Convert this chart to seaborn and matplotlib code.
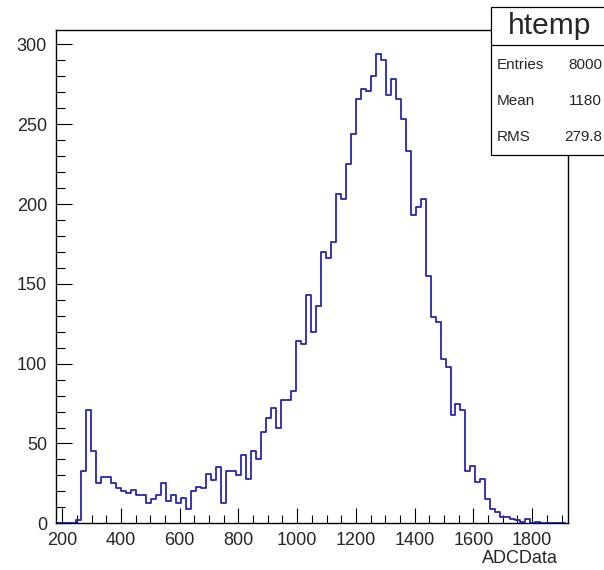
import numpy as np
import pandas as pd
import matplotlib
matplotlib.use("Agg")
import matplotlib.pyplot as plt
import seaborn as sns
from matplotlib.ticker import MultipleLocator, FixedLocator
from matplotlib.patches import Rectangle
from matplotlib.lines import Line2D

# ---- data ----
bin_start = 179
bin_width = 17
counts = [0, 0, 0, 0,
          2, 33, 71, 45, 25, 29, 29, 25, 22, 20,
          19, 21, 18, 18, 13, 15, 18, 25, 14, 18,
          13, 16, 9, 20, 23, 22, 31, 27, 35, 13,
          33, 33, 30, 43, 28, 45, 40, 57, 66, 72,
          60, 77, 77, 83, 114, 112, 143, 120, 136, 170,
          166, 176, 206, 203, 225, 244, 266, 272, 271, 280,
          294, 290, 268, 278, 266, 253, 233, 193, 198, 203,
          155, 129, 126, 103, 98, 68, 75, 71, 33, 36,
          26, 28, 15, 9, 7, 4, 4, 3, 2, 1, 3, 0, 1,
          0, 0, 0, 0, 0]
x_ticks = [200, 400, 600, 800, 1000, 1200, 1400, 1600, 1800]
y_ticks = [0, 50, 100, 150, 200, 250, 300]
x_range = [179, 1922]
y_range = [0, 309]
stat_names = ["Entries", "Mean", "RMS"]
stat_values = ["8000", "1180", "279.8"]
hist_title = "htemp"
x_label = "ADCData"

sns.set_style("ticks")
plt.rcParams["font.family"] = ["Liberation Sans", "DejaVu Sans"]

edges = [float(bin_start + bin_width * k) for k in range(len(counts) + 1)]
centers = [(edges[k] + edges[k + 1]) / 2 for k in range(len(counts))]
df = pd.DataFrame({"ADCData": centers, "count": counts})

W, H = 604, 570
fig = plt.figure(figsize=(W / 100, H / 100), dpi=100)
ax = fig.add_axes([56 / W, 1 - 523.3 / H, 512 / W, (523.3 - 30) / H])

sns.histplot(data=df, x="ADCData", weights="count", bins=edges,
             element="step", fill=False, color="#2626b4", linewidth=1.3, ax=ax)

ax.set_xlim(*x_range)
ax.set_ylim(*y_range)
ax.set_ylabel("")
ax.set_xlabel(x_label, fontsize=13, loc="right")
ax.xaxis.set_label_coords(0.9805, -0.054)

ax.xaxis.set_major_locator(FixedLocator(x_ticks))
ax.xaxis.set_minor_locator(MultipleLocator(50))
ax.yaxis.set_major_locator(FixedLocator(y_ticks))
ax.yaxis.set_minor_locator(MultipleLocator(10))
ax.tick_params(axis="both", which="both", direction="in", color="black",
               width=0.8, labelsize=13, top=False, right=False)
ax.tick_params(axis="x", which="major", length=10.8, pad=6)
ax.tick_params(axis="x", which="minor", length=6)
ax.tick_params(axis="y", which="major", length=11.5, pad=6.5)
ax.tick_params(axis="y", which="minor", length=6.5)
for s in ax.spines.values():
    s.set_visible(True)
    s.set_color("black")
    s.set_linewidth(1.0)
    s.set_zorder(4)

# ---- stats box ----
box_l, box_t, box_b, box_r = 491, 6.7, 155, 625
fig.add_artist(Rectangle((box_l / W, 1 - box_b / H), (box_r - box_l) / W,
                         (box_b - box_t) / H, transform=fig.transFigure,
                         facecolor="white", edgecolor="black", linewidth=0.9,
                         zorder=5))
fig.add_artist(Line2D([box_l / W, box_r / W], [1 - 45 / H, 1 - 45 / H],
                      transform=fig.transFigure, color="black", linewidth=0.9,
                      zorder=6))
fig.text(550 / W, 1 - 26.5 / H, hist_title, ha="center", va="center",
         fontsize=21.5, zorder=7)
for name, val, yc in zip(stat_names, stat_values, [65, 101, 137]):
    fig.text(496.5 / W, 1 - yc / H, name, ha="left", va="center",
             fontsize=11, zorder=7)
    fig.text(602 / W, 1 - yc / H, val, ha="right", va="center",
             fontsize=11, zorder=7)

fig.savefig("out.png", dpi=100)
